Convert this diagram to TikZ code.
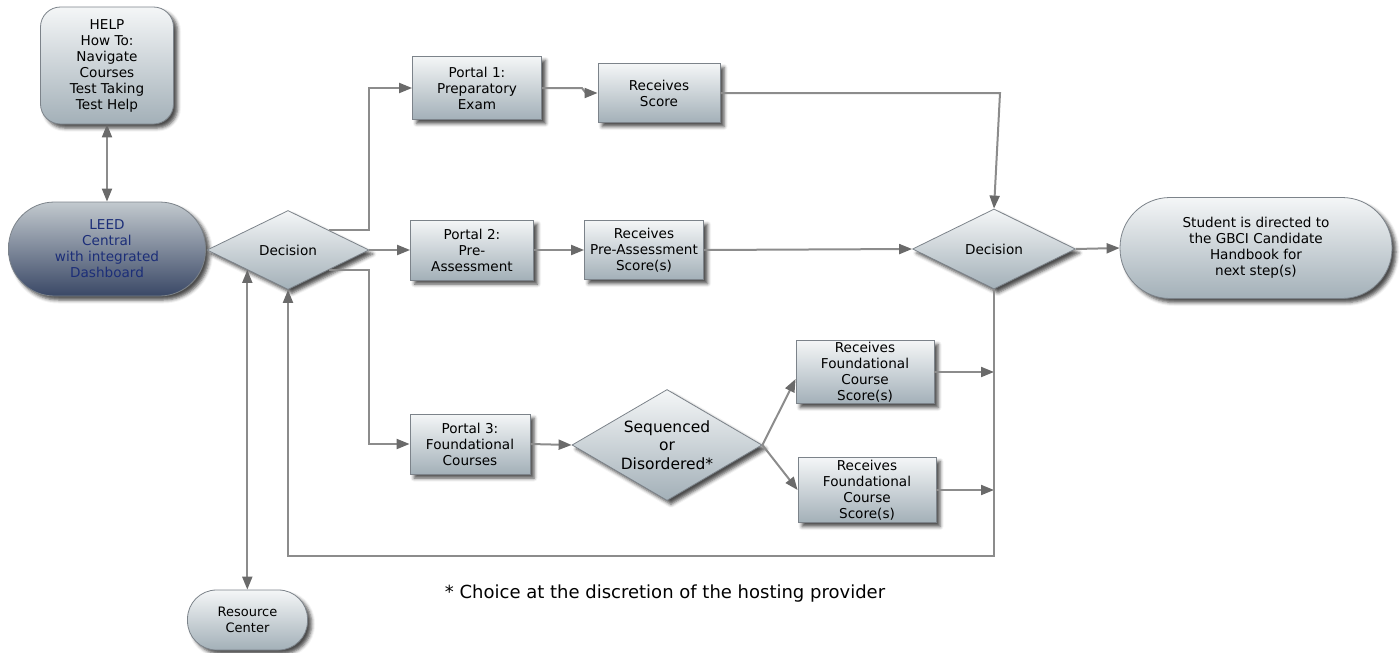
\documentclass[tikz,border=0pt]{standalone}
\usepackage{fontspec}
\setmainfont{DejaVu Sans}
\usetikzlibrary{shapes.geometric,arrows.meta,shadows.blur,calc}
\definecolor{boxtop}{HTML}{F4F6F7}
\definecolor{boxbot}{HTML}{A3B0B8}
\definecolor{leedtop}{HTML}{C2C9CE}
\definecolor{leedbot}{HTML}{3A4866}
\definecolor{leedtext}{HTML}{1C2E78}
\definecolor{edgecol}{HTML}{7C838A}
\definecolor{linecol}{HTML}{8C8C8C}
\definecolor{tipcol}{HTML}{6A6A6A}
\tikzset{
  shad/.style={blur shadow={shadow xshift=4pt, shadow yshift=-4pt, shadow blur radius=3.5pt, shadow opacity=70}},
  basebox/.style={draw=edgecol, line width=0.8pt, top color=boxtop, bottom color=boxbot, align=center,
    font=\fontsize{13.6}{16}\selectfont, inner sep=0pt, shad},
  rectbox/.style={basebox, rectangle},
  roundbox/.style={basebox, rectangle, rounded corners=#1},
  decbox/.style={basebox, diamond, aspect=2},
  conn/.style={draw=linecol, line width=2pt},
  arr/.style={conn, -{Triangle[length=13pt,width=10pt,color=tipcol]}},
  darr/.style={conn, {Triangle[length=13pt,width=10pt,color=tipcol]}-{Triangle[length=13pt,width=10pt,color=tipcol]}},
}
\begin{document}
\begin{tikzpicture}[x=1pt,y=-1pt]
\useasboundingbox (0,0) rectangle (1400,653);
% nodes
\node[roundbox=20pt, minimum width=133pt, minimum height=117pt] (help) at (107,65.5)
  {HELP\\How To:\\Navigate\\Courses\\Test Taking\\Test Help};
\node[roundbox=46pt, minimum width=197pt, minimum height=94pt, top color=leedtop, bottom color=leedbot,
  text=leedtext] (lc) at (107,249) {LEED\\Central\\with integrated\\Dashboard};
\node[decbox, minimum width=162pt, minimum height=79pt] (d1) at (288,250) {Decision};
\node[rectbox, minimum width=129pt, minimum height=63pt] (p1) at (477,88) {Portal 1:\\Preparatory\\Exam};
\node[rectbox, minimum width=122pt, minimum height=59pt] (r1) at (659,93) {Receives\\Score};
\node[rectbox, minimum width=123pt, minimum height=60pt] (p2) at (472,250) {Portal 2:\\Pre-\\Assessment};
\node[rectbox, minimum width=119pt, minimum height=59pt] (r2) at (644,250) {Receives\\Pre-Assessment\\Score(s)};
\node[decbox, minimum width=163pt, minimum height=80pt] (d2) at (994,249) {Decision};
\node[roundbox=50pt, minimum width=272pt, minimum height=101pt] (st) at (1256,248)
  {Student is directed to\\the GBCI Candidate\\Handbook for\\next step(s)};
\node[rectbox, minimum width=120pt, minimum height=60pt] (p3) at (470,444) {Portal 3:\\Foundational\\Courses};
\node[basebox, diamond, aspect=1.71, minimum width=190pt, minimum height=111pt,
  font=\fontsize{15.5}{18.5}\selectfont] (sq) at (667,445) {Sequenced\\or\\Disordered*};
\node[rectbox, minimum width=138pt, minimum height=63pt] (f1) at (865,372) {Receives\\Foundational\\Course\\Score(s)};
\node[rectbox, minimum width=138pt, minimum height=65pt] (f2) at (867,490) {Receives\\Foundational\\Course\\Score(s)};
\node[roundbox=29pt, minimum width=120pt, minimum height=60pt, font=\fontsize{13}{16}\selectfont] (rc) at (247.5,620)
  {Resource\\Center};
\node[font=\fontsize{18}{21}\selectfont, inner sep=0pt] (note) at (665,594) {* Choice at the discretion of the hosting provider};
\coordinate (k3) at (1000,93);
\coordinate (lp) at (0,556);
% connectors
\draw[darr] (help.south) -- (lc.north);
\draw[arr] (d1.north east) -- (d1.north east -| d1.east) |- (p1.west);
\draw[arr] (d1.east) -- (p2.west);
\draw[arr] (d1.south east) -- (d1.south east -| d1.east) |- (p3.west);
\draw[arr] (p1.east) -- ++(40,0) -- ++(4,5) -- (r1.west);
\draw[arr] (p2.east) -- (r2.west);
\draw[arr] (r1.east) -- (k3) -- (d2.north);
\draw[arr] (r2.east) -- (d2.west);
\draw[arr] (d2.east) -- (st.west);
\draw[arr] (p3.east) -- (sq.west);
\draw[arr] (sq.east) -- ($(f1.west)+(0,7)$);
\draw[arr] (sq.east) -- (f2.west);
\draw[arr] (f1.east) -- (f1.east -| d2.south);
\draw[arr] (f2.east) -- (f2.east -| d2.south);
\draw[arr] (d2.south) -- (d2.south |- lp) -| (d1.south);
\draw[darr] (d1.south west) -- (d1.south west |- rc.north);
\end{tikzpicture}
\end{document}
